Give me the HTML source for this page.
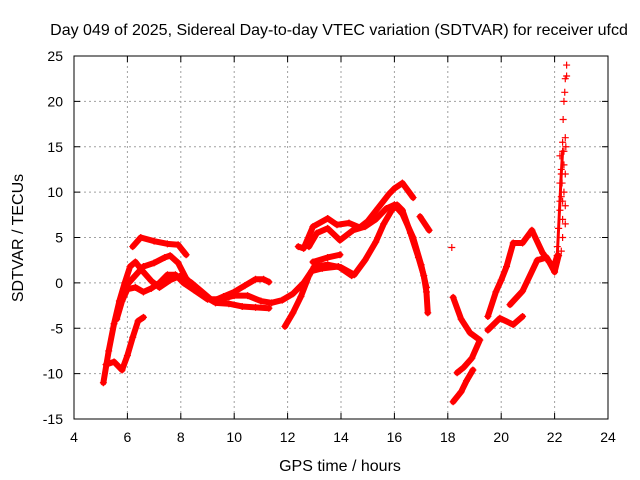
<!DOCTYPE html>
<html><head><meta charset="utf-8"><style>
body{margin:0;background:#fff}
svg{display:block;font-family:"Liberation Sans",sans-serif}
</style></head><body>
<svg id="chart" width="640" height="480">
<rect width="640" height="480" fill="#fff"/>
<g id="grid"></g>
<g id="axes"></g>
<g id="series"></g>
<text x="339" y="35" text-anchor="middle" font-size="16">Day 049 of 2025, Sidereal Day-to-day VTEC variation (SDTVAR) for receiver ufcd</text>
<text x="340" y="471" text-anchor="middle" font-size="16">GPS time / hours</text>
<text x="23" y="238" text-anchor="middle" font-size="16" transform="rotate(-90 23 238)">SDTVAR / TECUs</text>
</svg>
<script>
const xTicks=[4,6,8,10,12,14,16,18,20,22,24];
const yTicks=[-15,-10,-5,0,5,10,15,20,25];
const track1=[[5.1,-11],[5.3,-7.5],[5.5,-4.5],[5.7,-2],[5.9,0],[6.1,1.8],[6.3,2.3],[6.6,1.2],[6.9,0.2],[7.2,-0.5],[7.6,0.3],[8.0,0.8],[8.4,0],[8.8,-1],[9.2,-2],[9.6,-1.5],[10.0,-1],[10.4,-0.3],[10.8,0.4],[11.1,0.4],[11.3,0.1]];
const track2=[[5.6,-4],[5.8,-2],[6.0,-0.7],[6.3,-0.5],[6.6,-1],[6.9,-0.6],[7.2,0],[7.5,0.9],[7.8,0.9],[8.1,0],[8.5,-0.8],[9.0,-1.8],[9.5,-1.8],[10,-1.4],[10.5,-1.4],[11,-2],[11.4,-2.2],[11.8,-1.9],[12.2,-1.2],[12.6,0],[12.9,1.3],[13.3,1.6],[13.9,1.8],[14.4,0.8]];
const track3=[[5.9,-0.5],[6.2,0.5],[6.6,1.8],[7.0,2.2],[7.4,2.8],[7.6,3.0],[7.9,2.2],[8.2,0.5],[8.5,-0.5],[8.9,-1.5],[9.3,-2.2],[9.8,-2.3],[10.3,-2.6],[10.8,-2.7],[11.3,-2.8]];
const track4=[[6.2,4.0],[6.5,5.0],[7.0,4.6],[7.5,4.3],[7.9,4.2],[8.2,3.1]];
const track5=[[5.2,-9],[5.5,-8.7],[5.8,-9.6],[6.0,-8],[6.2,-6],[6.4,-4.2],[6.6,-3.8]];
const track6=[[11.9,-4.8],[12.2,-3.3],[12.5,-1.5],[12.8,0.8],[13.0,1.8],[13.5,2.0],[14.0,1.7],[14.5,0.9],[14.9,2.5],[15.3,4.5],[15.6,6.5],[15.9,8.0],[16.1,8.6],[16.3,8],[16.6,5.5],[16.9,2.8],[17.1,0.8],[17.2,-1],[17.25,-3.3]];
const track7=[[12.4,4],[12.6,3.8],[12.95,6.2],[13.5,7.1],[13.85,6.4],[14.3,6.6],[14.7,6.1],[15.0,6.8],[15.4,8.3],[15.8,9.8],[16.0,10.4],[16.3,11],[16.7,9.4]];
const track8=[[12.8,4],[13.1,5.5],[13.5,6.0],[13.96,4.7],[14.45,5.8],[14.9,6.2],[15.3,7],[15.7,8.2],[16.0,8.6],[16.3,7.6],[16.7,5],[17.0,2],[17.2,-0.5]];
const track9=[[12.95,2.3],[13.5,2.8],[13.96,3.1]];
const track10=[[16.96,7.3],[17.3,5.8]];
const track11=[[18.2,-1.6],[18.5,-4],[18.83,-5.5],[19.2,-6.3],[18.9,-8.3],[18.6,-9.3],[18.35,-9.9]];
const track12=[[18.2,-13.1],[18.5,-12],[18.7,-10.8],[18.94,-9.6]];
const track13=[[19.5,-3.7],[19.8,-1],[20.0,0.3],[20.2,1.8],[20.45,4.4],[20.8,4.4],[21.15,5.8],[21.55,3.3],[21.8,2.3],[22.0,1.2],[22.15,3]];
const track14=[[19.5,-5.2],[19.95,-3.9],[20.45,-4.6],[20.8,-3.7]];
const track15=[[20.33,-2.4],[20.8,-0.9],[21.35,2.5],[21.7,2.8],[21.95,1.6],[22.1,3]];
const track16=[[22.1,3],[22.15,6],[22.2,9],[22.25,12],[22.3,14.5]];
const scatter=[[18.15,3.9],[22.1,4],[22.15,6],[22.2,8],[22.25,9.5],[22.2,11],[22.25,12.5],[22.2,14],[22.3,15.5],[22.35,13],[22.4,16],[22.35,10],[22.4,8.5],[22.3,7],[22.32,18],[22.35,20],[22.38,21],[22.4,22.5],[22.45,22.8],[22.45,24],[22.28,11],[22.3,5],[22.35,14.5],[22.4,12],[22.3,9],[22.25,3.5],[22.4,6.5],[22.42,15]];
const tracks=[track1,track2,track3,track4,track5,track6,track7,track8,track9,track10,track11,track12,track13,track14,track15,track16];

const X0=74,X1=608,Y0=419,Y1=56;
const xs=v=>X0+(v-4)/20*(X1-X0);
const ys=v=>Y0-(v+15)/40*(Y0-Y1);
const NS='http://www.w3.org/2000/svg';
function mk(tag,attrs,parent){const e=document.createElementNS(NS,tag);for(const k in attrs)e.setAttribute(k,attrs[k]);parent.appendChild(e);return e;}
const grid=document.getElementById('grid'),axes=document.getElementById('axes'),ser=document.getElementById('series');
xTicks.forEach(t=>{
  const x=xs(t);
  if(t>4&&t<24){const l=mk('line',{x1:x,x2:x,y1:Y1,y2:Y0,stroke:'#a0a0a0','stroke-dasharray':'2,3'},grid);
  
  }
  mk('line',{x1:x,x2:x,y1:Y0,y2:Y0-6,stroke:'#000'},axes);
  mk('line',{x1:x,x2:x,y1:Y1,y2:Y1+6,stroke:'#000'},axes);
  const tx=mk('text',{x:x,y:Y0+23,'text-anchor':'middle','font-size':14},axes);tx.textContent=t;
  
  
});
yTicks.forEach(t=>{
  const y=ys(t);
  if(t>-15&&t<25){const l=mk('line',{x1:X0,x2:X1,y1:y,y2:y,stroke:'#a0a0a0','stroke-dasharray':'2,3'},grid);
  
  }
  mk('line',{x1:X0,x2:X0+6,y1:y,y2:y,stroke:'#000'},axes);
  mk('line',{x1:X1,x2:X1-6,y1:y,y2:y,stroke:'#000'},axes);
  const tx=mk('text',{x:X0-11,y:y+5,'text-anchor':'end','font-size':14},axes);tx.textContent=t;
  
  
});
const fr=mk('rect',{x:X0,y:Y1,width:X1-X0,height:Y0-Y1,fill:'none',stroke:'#000'},axes);


function plus(x,y,g){const s=3.5;mk('path',{d:`M${x-s},${y}H${x+s}M${x},${y-s}V${y+s}`,stroke:'#f00','stroke-width':1.2},g);}
tracks.forEach((tr,i)=>{
  const g=mk('g',{},ser);
  
  
  mk('polyline',{points:tr.map(p=>xs(p[0])+','+ys(p[1])).join(' '),fill:'none',stroke:'#f00','stroke-width':i===15?3:6,'stroke-linejoin':'round','stroke-linecap':'round'},g);
  tr.forEach(p=>plus(xs(p[0]),ys(p[1]),g));
});
const sg=mk('g',{},ser);


scatter.forEach(p=>plus(xs(p[0]),ys(p[1]),sg));
</script>
</body></html>
